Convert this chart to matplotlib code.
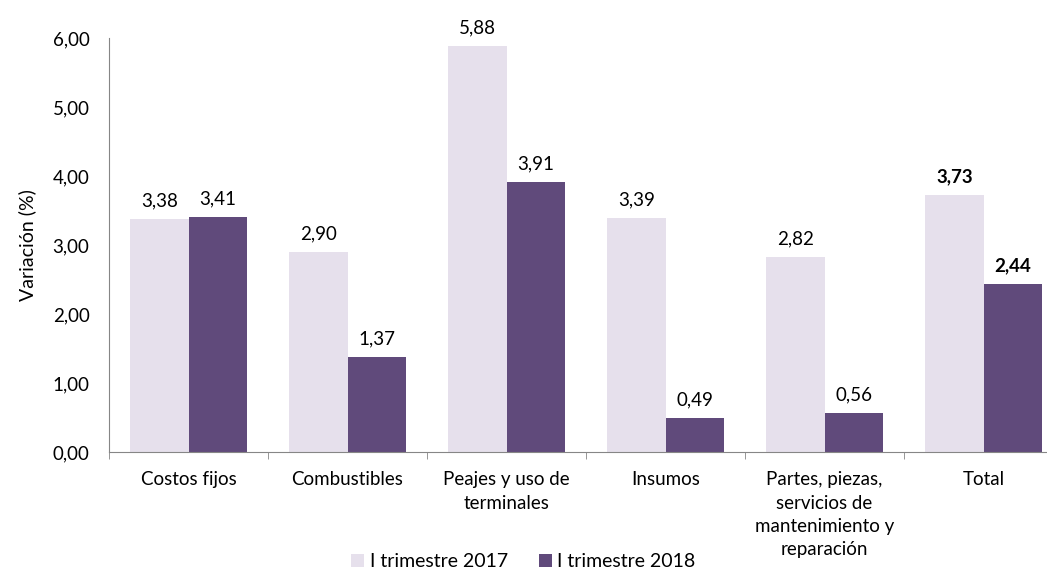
import matplotlib.pyplot as plt
import numpy as np

categorias = ['Costos fijos', 'Combustibles', 'Peajes y uso de\nterminales', 'Insumos',
              'Partes, piezas,\nservicios de\nmantenimiento y\nreparación', 'Total']
valores_2017 = [3.38, 2.90, 5.88, 3.39, 2.82, 3.73]
valores_2018 = [3.41, 1.37, 3.91, 0.49, 0.56, 2.44]
series = ['I trimestre 2017', 'I trimestre 2018']

COLOR_2017 = '#E6E0EC'
COLOR_2018 = '#604A7B'
GRIS = '#868686'
ANCHO = 0.365

plt.rcParams['font.family'] = ['Lato', 'DejaVu Sans']

fig = plt.figure(figsize=(10.47, 5.75), dpi=100)
ax = fig.add_axes([109 / 1047, 123 / 575, 954 / 1047, 414 / 575])

x = np.arange(len(categorias))
b1 = ax.bar(x - ANCHO / 2, valores_2017, ANCHO, color=COLOR_2017, label=series[0])
b2 = ax.bar(x + ANCHO / 2, valores_2018, ANCHO, color=COLOR_2018, label=series[1])

def etiquetar(barras, valores):
    for i, (b, v) in enumerate(zip(barras, valores)):
        peso = 'bold' if i == len(valores) - 1 else 'normal'
        ax.annotate(f'{v:.2f}'.replace('.', ','),
                    (b.get_x() + b.get_width() / 2, v),
                    xytext=(0, 7), textcoords='offset points',
                    ha='center', va='bottom', fontsize=13.5, fontweight=peso)

etiquetar(b1, valores_2017)
etiquetar(b2, valores_2018)

ax.set_xlim(-0.5, len(categorias) - 0.5)
ax.set_ylim(0, 6)
ax.set_yticks(np.arange(0, 7, 1))
ax.set_yticklabels([f'{v:.2f}'.replace('.', ',') for v in np.arange(0, 7, 1)], fontsize=13.5)
ax.tick_params(axis='y', length=0, pad=14)

ax.set_xticks(x)
ax.set_xticklabels(categorias, fontsize=13.5, va='top', linespacing=1.45)
ax.tick_params(axis='x', length=0, pad=14)
ax.set_xticks(np.arange(-0.5, len(categorias), 1), minor=True)
ax.tick_params(axis='x', which='minor', length=5, color=GRIS)

for s in ['top', 'right']:
    ax.spines[s].set_visible(False)
for s in ['left', 'bottom']:
    ax.spines[s].set_color(GRIS)

ax.set_ylabel('Variación (%)', fontsize=14, labelpad=12)

fig.legend(handles=[b1, b2], loc='lower center', bbox_to_anchor=(0.5, -0.022),
           ncol=2, frameon=False, fontsize=14, handlelength=0.65, handleheight=0.65,
           handletextpad=0.3, columnspacing=1.6)

fig.savefig('out.png', dpi=100)
